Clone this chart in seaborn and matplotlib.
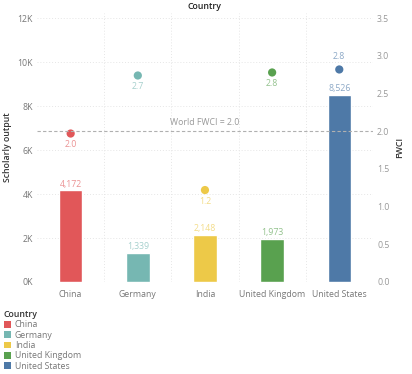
import numpy as np
import pandas as pd
import matplotlib.pyplot as plt
import seaborn as sns
from matplotlib.colors import to_rgb
from matplotlib.patches import Patch

# Data
countries = ["China", "Germany", "India", "United Kingdom", "United States"]
scholarly_output = [4172, 1339, 2148, 1973, 8526]
fwci = [1.97, 2.74, 1.22, 2.78, 2.82]
fwci_labels = ["2.0", "2.7", "1.2", "2.8", "2.8"]
world_fwci = 2.0
colors = ["#E15759", "#76B7B2", "#EDC948", "#59A14F", "#4E79A7"]

df = pd.DataFrame({"Country": countries, "Output": scholarly_output, "FWCI": fwci})
palette = dict(zip(countries, colors))


def lighten(c, amt=0.3):
    r = np.array(to_rgb(c))
    return tuple(r + (1 - r) * amt)


sns.set_style("white")
plt.rcParams["font.family"] = ["Open Sans", "DejaVu Sans"]
fs = 6.3

fig = plt.figure(figsize=(4.12, 3.74), dpi=100)
ax = fig.add_axes([0.09, 0.246, 0.815, 0.72])

sns.barplot(data=df, x="Country", y="Output", hue="Country", palette=palette,
            width=0.35, dodge=False, legend=False, ax=ax, saturation=1)

for cont, c in zip(ax.containers, colors):
    ax.bar_label(cont, labels=[f"{v:,.0f}" for v in cont.datavalues],
                 padding=1, fontsize=fs, color=lighten(c, 0.35))

ax.set_ylim(0, 12250)
ax.set_yticks(np.arange(0, 12001, 2000))
ax.set_yticklabels([f"{int(t / 1000)}K" for t in np.arange(0, 12001, 2000)])
ax.set_xlim(-0.5, len(countries) - 0.5)
ax.set_xlabel("")
ax.set_ylabel("Scholarly output", fontsize=fs, color="#333333", labelpad=4,
              fontweight="semibold")
ax.tick_params(axis="both", labelsize=fs, colors="#777777", length=0, pad=3)
ax.tick_params(axis="x", pad=6)
ax.grid(axis="y", linestyle=(0, (1, 2)), color="#e6e6e6", linewidth=0.7)
for xb in np.arange(0.5, len(countries) - 1, 1):
    ax.axvline(xb, linestyle=(0, (1, 2)), color="#e6e6e6", linewidth=0.7, zorder=0)
ax.set_axisbelow(True)
for s in ax.spines.values():
    s.set_visible(False)
ax.set_title("Country", fontsize=fs, color="#222222", pad=3, fontweight="semibold")

ax2 = ax.twinx()
sns.scatterplot(data=df, x="Country", y="FWCI", hue="Country", palette=palette,
                s=35, edgecolor="none", legend=False, ax=ax2)
ax2.set_ylim(0, 3.573)
ax2.set_yticks(np.arange(0, 3.51, 0.5))
ax2.set_yticklabels([f"{t:.1f}" for t in np.arange(0, 3.51, 0.5)])
ax2.set_ylabel("FWCI", fontsize=fs, color="#333333", labelpad=4, fontweight="semibold")
ax2.tick_params(axis="y", labelsize=fs, colors="#999999", length=0, pad=3)
for s in ax2.spines.values():
    s.set_visible(False)

ax2.axhline(world_fwci, color="#b0b0b0", linestyle=(0, (3, 2)), linewidth=0.8)
ax2.annotate(f"World FWCI = {world_fwci:.1f}", xy=(2, world_fwci), xytext=(0, 3),
             textcoords="offset points", ha="center", va="bottom",
             fontsize=fs, color="#999999")

for i, (v, lab, c) in enumerate(zip(fwci, fwci_labels, colors)):
    above = countries[i] == "United States"
    ax2.annotate(lab, xy=(i, v), xytext=(0, 6 if above else -5),
                 textcoords="offset points", ha="center",
                 va="bottom" if above else "top", fontsize=fs,
                 color=lighten(c, 0.35))

handles = [Patch(facecolor=c, edgecolor="none") for c in colors]
leg = fig.legend(handles, countries, title="Country", loc="upper left",
                 bbox_to_anchor=(0.0, 0.18), frameon=False, fontsize=fs,
                 title_fontsize=fs, handlelength=0.9, handleheight=0.8,
                 handletextpad=0.4, labelspacing=0.15, borderaxespad=0.2,
                 borderpad=0.2)
leg._legend_box.align = "left"
leg.get_title().set_color("#333333")
leg.get_title().set_fontweight("semibold")
for t in leg.get_texts():
    t.set_color("#777777")

fig.savefig("out.png", dpi=100)
